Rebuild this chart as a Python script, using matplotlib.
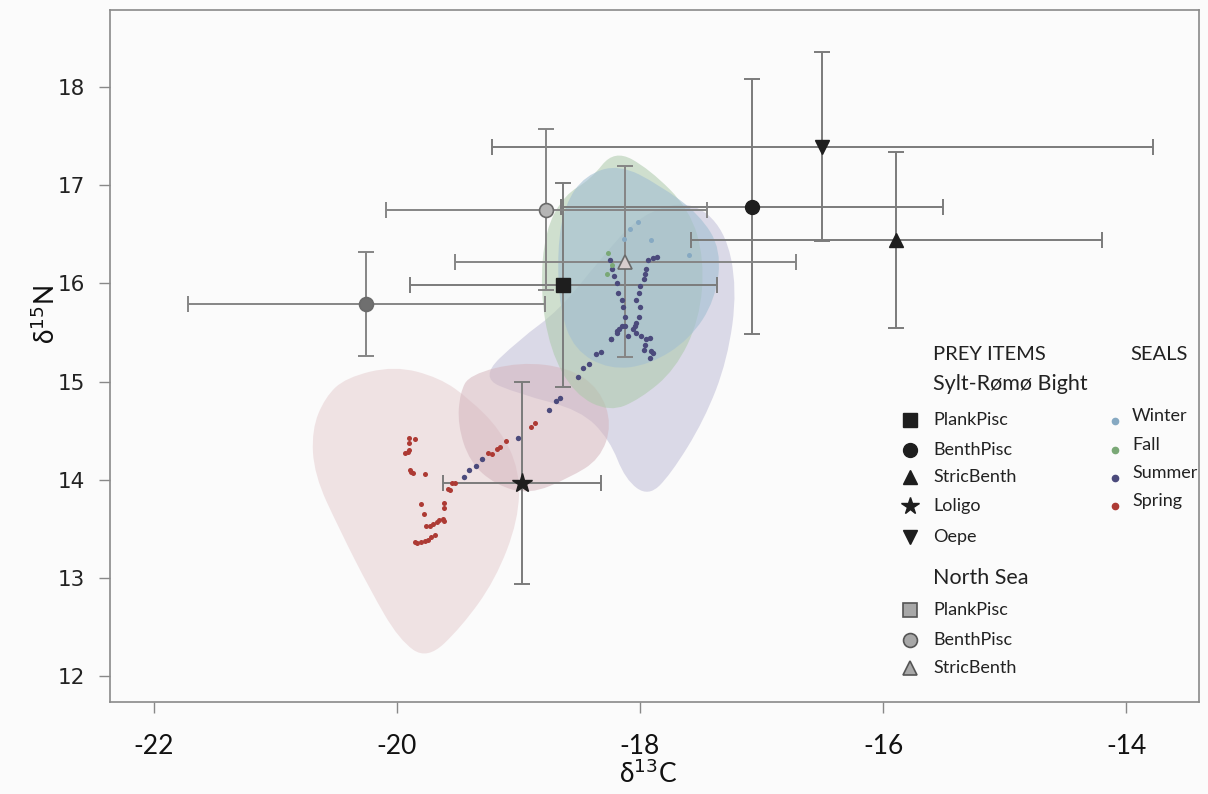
import numpy as np
import matplotlib.pyplot as plt
from matplotlib.path import Path
from matplotlib.patches import PathPatch

# prey means and SDs (d13C, d15N)
sylt_names = ['PlankPisc', 'BenthPisc', 'StricBenth', 'Loligo', 'Oepe']
sylt_c = [-18.63, -17.08, -15.89, -18.97, -16.50]
sylt_n = [15.98, 16.78, 16.44, 13.97, 17.39]
sylt_c_sd = [1.26, 1.57, 1.69, 0.65, 2.72]
sylt_n_sd = [1.04, 1.30, 0.90, 1.03, 0.96]
sylt_marks = ['s', 'o', '^', '*', 'v']

ns_names = ['PlankPisc', 'BenthPisc', 'StricBenth']
ns_c = [-20.25, -18.77, -18.12]
ns_n = [15.79, 16.75, 16.22]
ns_c_sd = [1.47, 1.32, 1.40]
ns_n_sd = [0.53, 0.82, 0.97]

# seal isotope niches (outline vertices, d13C / d15N)
spring_c = [-20.42, -20.02, -19.65, -19.40, -19.15, -18.99, -19.00, -19.19, -19.47, -19.75, -19.98, -20.22, -20.47, -20.68, -20.70, -20.59]
spring_n = [15.04, 15.16, 15.04, 14.82, 14.51, 14.10, 13.59, 12.98, 12.50, 12.17, 12.37, 12.88, 13.49, 14.05, 14.51, 14.84]
spring2_c = [-19.40, -18.99, -18.58, -18.33, -18.23, -18.33, -18.58, -18.91, -19.19, -19.40, -19.50, -19.48]
spring2_n = [15.07, 15.20, 15.14, 14.92, 14.56, 14.21, 14.02, 13.85, 13.95, 14.18, 14.56, 14.89]
summer_c = [-19.32, -18.99, -18.66, -18.33, -18.00, -17.59, -17.30, -17.20, -17.28, -17.47, -17.75, -17.93, -18.12, -18.25, -18.49, -18.99]
summer_n = [15.04, 15.43, 15.73, 16.24, 16.70, 16.85, 16.55, 15.94, 15.22, 14.61, 14.05, 13.83, 14.00, 14.41, 14.71, 14.87]
fall_c = [-18.41, -18.21, -17.92, -17.59, -17.47, -17.51, -17.71, -18.00, -18.25, -18.54, -18.74, -18.82, -18.78, -18.62]
fall_n = [17.05, 17.36, 17.16, 16.75, 16.24, 15.63, 15.12, 14.82, 14.69, 14.87, 15.32, 15.93, 16.54, 16.90]
winter_c = [-18.45, -18.17, -17.84, -17.51, -17.33, -17.38, -17.59, -17.92, -18.25, -18.54, -18.66, -18.68, -18.62]
winter_n = [17.10, 17.21, 17.00, 16.70, 16.34, 15.83, 15.43, 15.17, 15.12, 15.32, 15.73, 16.34, 16.80]

# individual seal values
spring_pts_c = [-19.90, -19.85, -19.90, -19.93, -19.91, -19.90, -19.89, -19.88, -19.87, -19.77, -19.55, -19.52,
                -19.56, -19.58, -19.25, -19.22, -19.18, -19.15, -19.10, -18.90, -18.86, -19.80, -19.61, -19.61,
                -19.78, -19.76, -19.73, -19.70, -19.67, -19.65, -19.62, -19.61, -19.85, -19.83, -19.80, -19.77,
                -19.74, -19.72, -19.69]
spring_pts_n = [14.43, 14.42, 14.37, 14.27, 14.28, 14.30, 14.10, 14.08, 14.07, 14.06, 13.97, 13.97,
                13.90, 13.91, 14.27, 14.26, 14.31, 14.33, 14.39, 14.54, 14.58, 13.75, 13.76, 13.71,
                13.65, 13.53, 13.53, 13.55, 13.57, 13.59, 13.60, 13.58, 13.37, 13.36, 13.37, 13.38,
                13.39, 13.42, 13.44]
summer_pts_c = [-19.45, -19.41, -19.35, -19.30, -19.00, -18.75, -18.69, -18.66, -18.51, -18.47, -18.42, -18.36,
                -18.32, -18.24, -18.19, -18.15, -18.25, -18.23, -18.21, -18.19, -18.18, -18.15, -18.14, -18.12,
                -18.12, -18.10, -17.93, -17.89, -17.86, -17.95, -17.96, -17.97, -18.00, -18.01, -18.03, -18.00,
                -18.01, -18.03, -18.04, -18.03, -17.99, -17.95, -17.92, -18.17, -18.19, -18.24, -17.91, -17.89,
                -17.97, -17.92, -18.06, -17.96]
summer_pts_n = [14.03, 14.10, 14.14, 14.21, 14.43, 14.71, 14.80, 14.83, 15.05, 15.14, 15.18, 15.28,
                15.30, 15.43, 15.51, 15.56, 16.24, 16.14, 16.07, 16.00, 15.90, 15.83, 15.76, 15.66,
                15.56, 15.46, 16.24, 16.26, 16.27, 16.14, 16.09, 16.04, 15.97, 15.90, 15.83, 15.76,
                15.66, 15.60, 15.56, 15.49, 15.46, 15.43, 15.44, 15.53, 15.49, 15.43, 15.31, 15.29,
                15.32, 15.24, 15.53, 15.37]
winter_pts_c = [-18.02, -18.08, -18.13, -17.91, -17.60]
winter_pts_n = [16.62, 16.55, 16.45, 16.44, 16.29]
fall_pts_c = [-18.26, -18.23, -18.27]
fall_pts_n = [16.31, 16.19, 16.09]

seasons = ['Winter', 'Fall', 'Summer', 'Spring']
season_dot = ['#86a9c2', '#7aa876', '#4b4a7c', '#ad3a34']

x_ticks = [-22, -20, -18, -16, -14]
y_ticks = [12, 13, 14, 15, 16, 17, 18]


def smooth_outline(xs, ys):
    # closed quadratic-bezier outline through the edge midpoints
    pts = np.column_stack([xs, ys])
    mids = (pts + np.roll(pts, -1, axis=0)) / 2
    verts = [mids[-1]]
    codes = [Path.MOVETO]
    for p, m in zip(pts, mids):
        verts += [p, m]
        codes += [Path.CURVE3, Path.CURVE3]
    return Path(verts, codes)


fig = plt.figure(figsize=(12.08, 7.94), dpi=100)
fig.patch.set_facecolor('#fbfbfb')
ax = fig.add_axes([0.091, 0.116, 0.9017, 0.8714])
ax.set_facecolor('#fbfbfb')

# niches
niches = [
    (summer_c, summer_n, '#c9c7dd', 0.65),
    (spring_c, spring_n, '#ecdadc', 0.75),
    (spring2_c, spring2_n, '#d5b6be', 0.55),
    (fall_c, fall_n, '#abc9a9', 0.55),
    (winter_c, winter_n, '#a2bfd2', 0.60),
]
for xs, ys, col, a in niches:
    ax.add_patch(PathPatch(smooth_outline(xs, ys), facecolor=col, edgecolor='none', alpha=a, zorder=1))

# seal points
ax.scatter(spring_pts_c, spring_pts_n, s=13, color=season_dot[3], zorder=4, linewidths=0)
ax.scatter(summer_pts_c, summer_pts_n, s=15, color=season_dot[2], zorder=4, linewidths=0)
ax.scatter(winter_pts_c, winter_pts_n, s=13, color=season_dot[0], zorder=4, linewidths=0)
ax.scatter(fall_pts_c, fall_pts_n, s=13, color=season_dot[1], zorder=4, linewidths=0)

# prey with SD bars
for i in range(len(sylt_names)):
    ms = 15 if sylt_marks[i] == '*' else 10
    ax.errorbar(sylt_c[i], sylt_n[i], xerr=sylt_c_sd[i], yerr=sylt_n_sd[i], fmt='none',
                ecolor='#7b7b7b', elinewidth=1.4, capsize=6, capthick=1.4, zorder=3)
    ax.plot(sylt_c[i], sylt_n[i], marker=sylt_marks[i], ms=ms, color='#1e1e1e', zorder=5)

ns_fill = ['#6f6f6f', '#b5b5b5', '#d8cdcd']
ns_marks = ['o', 'o', '^']
for i in range(len(ns_names)):
    ax.errorbar(ns_c[i], ns_n[i], xerr=ns_c_sd[i], yerr=ns_n_sd[i], fmt='none',
                ecolor='#858585', elinewidth=1.4, capsize=6, capthick=1.4, zorder=3)
    ax.plot(ns_c[i], ns_n[i], marker=ns_marks[i], ms=10, markerfacecolor=ns_fill[i],
            markeredgecolor='#6a6a6a', markeredgewidth=1.2, zorder=5)

ax.set_xlim(-22.36, -13.40)
ax.set_ylim(11.74, 18.78)
ax.set_xticks(x_ticks)
ax.set_yticks(y_ticks)
ax.set_xticklabels([str(t) for t in x_ticks], fontsize=19, family='Lato', color='#111111')
ax.set_yticklabels([str(t) for t in y_ticks], fontsize=15.5, family='DejaVu Sans', color='#222222')
ax.tick_params(axis='x', length=8, width=1, color='#888888', pad=15)
ax.tick_params(axis='y', length=8, width=1, color='#888888', pad=10)
for sp in ax.spines.values():
    sp.set_color('#8a8a8a')
    sp.set_linewidth(1.2)

ax.set_xlabel(r'δ$^{13}$C', fontsize=19, family='Lato', color='#111111')
ax.set_ylabel(r'δ$^{15}$N', fontsize=19, family='Lato', color='#111111')
ax.yaxis.set_label_coords(-0.046, 0.56)
ax.xaxis.set_label_coords(0.494, -0.083)

# legend built by hand
tf = ax.transAxes
lk = dict(transform=tf, family='Lato', color='#222222', va='center', ha='left')
ax.text(0.7557, 0.5014, 'PREY ITEMS', fontsize=14.5, **lk)
ax.text(0.9366, 0.5014, 'SEALS', fontsize=14.5, **lk)
ax.text(0.7557, 0.4595, 'Sylt-Rømø Bight', fontsize=15.5, **lk)
ax.text(0.7557, 0.1792, 'North Sea', fontsize=15.5, **lk)

sylt_rows = [0.4075, 0.3642, 0.3251, 0.2832, 0.2384]
for name, mk, yy in zip(sylt_names, sylt_marks, sylt_rows):
    ax.plot(0.7346, yy, marker=mk, ms=13 if mk == '*' else 10, color='#1e1e1e',
            transform=tf, clip_on=False, zorder=6)
    ax.text(0.7557, yy, name, fontsize=13, **lk)

ns_rows = [0.1329, 0.0896, 0.0491]
for name, mk, yy in zip(ns_names, ['s', 'o', '^'], ns_rows):
    ax.plot(0.7346, yy, marker=mk, ms=10, markerfacecolor='#a8a8a8', markeredgecolor='#555555',
            markeredgewidth=1.2, transform=tf, clip_on=False, zorder=6)
    ax.text(0.7557, yy, name, fontsize=13, **lk)

season_rows = [0.4133, 0.3714, 0.3309, 0.2905]
for name, col, yy in zip(seasons, season_dot, season_rows):
    ax.plot(0.9229, yy - 0.008, marker='o', ms=4.5, color=col, transform=tf, clip_on=False, zorder=6)
    ax.text(0.9385, yy, name, fontsize=13, **lk)

fig.savefig('out.png', dpi=100, facecolor=fig.get_facecolor())
